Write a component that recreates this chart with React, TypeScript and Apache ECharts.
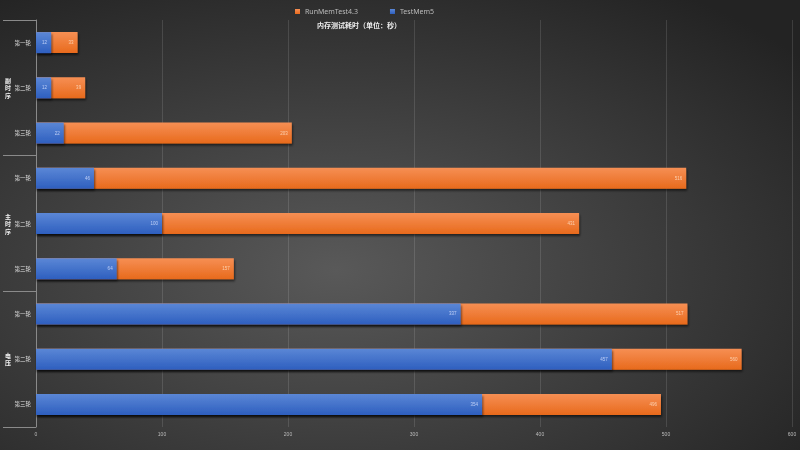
import React, { useEffect, useRef } from "react";
import * as echarts from "echarts";

const groups = ["副时序", "主时序", "电压"];
const rounds = ["第一轮", "第二轮", "第三轮"];
const categories = groups.flatMap((g) => rounds.map((r) => g + "|" + r));
const testMem5 = [12, 12, 22, 46, 100, 64, 337, 457, 354];
const runMemTest = [33, 39, 203, 516, 431, 157, 517, 560, 496];
const xTicks = [0, 100, 200, 300, 400, 500, 600];

const orangeGrad = new echarts.graphic.LinearGradient(0, 0, 0, 1, [
  { offset: 0, color: "#f68f54" },
  { offset: 1, color: "#e86a1c" },
]);
const blueGrad = new echarts.graphic.LinearGradient(0, 0, 0, 1, [
  { offset: 0, color: "#5b87d6" },
  { offset: 1, color: "#2e5fbf" },
]);

export default function App() {
  const ref = useRef<HTMLDivElement>(null);
  useEffect(() => {
    if (!ref.current) return;
    const chart = echarts.init(ref.current, undefined, { renderer: "svg" });
    chart.setOption({
      animation: false,
      backgroundColor: {
        type: "radial",
        x: 0.42,
        y: 0.6,
        r: 0.75,
        colorStops: [
          { offset: 0, color: "#595959" },
          { offset: 1, color: "#232323" },
        ],
      },
      title: {
        text: "内存测试耗时（单位：秒）",
        left: 312,
        top: 16,
        textStyle: { color: "#f0f0f0", fontSize: 7, fontWeight: "bold", fontFamily: "Noto Sans CJK SC" },
      },
      legend: {
        left: 290,
        top: 3,
        itemWidth: 5,
        itemHeight: 5,
        itemGap: 32,
        icon: "rect",
        textStyle: { color: "#bbbbbb", fontSize: 7, fontFamily: "Noto Sans" },
        data: ["RunMemTest4.3", "TestMem5"],
      },
      grid: { left: 36, right: 8, top: 20, bottom: 23, containLabel: false },
      xAxis: {
        type: "value",
        min: 0,
        max: 600,
        interval: 100,
        axisLine: { show: false },
        axisTick: { show: false },
        splitLine: { lineStyle: { color: "rgba(255,255,255,0.12)", width: 1 } },
        axisLabel: {
          color: "#bbbbbb",
          fontSize: 5,
          margin: 4,
          formatter: (v: number) => (xTicks.includes(v) ? String(v) : ""),
        },
      },
      yAxis: [
        {
          type: "category",
          inverse: true,
          position: "left",
          data: categories,
          axisLine: { show: true, lineStyle: { color: "#8a8a8a", width: 1 } },
          axisTick: { show: false },
          axisLabel: {
            color: "#e0e0e0",
            fontSize: 5.5,
            margin: 5,
            fontFamily: "Noto Sans CJK SC",
            formatter: (v: string) => v.split("|")[1],
          },
        },
        {
          type: "category",
          inverse: true,
          position: "left",
          offset: 0,
          data: groups,
          axisLine: { show: false },
          axisTick: { show: true, length: 33, lineStyle: { color: "#8a8a8a", width: 1 } },
          axisLabel: {
            color: "#f0f0f0",
            fontSize: 6,
            fontWeight: "bold",
            align: "center",
            margin: 28,
            lineHeight: 7.5,
            fontFamily: "Noto Sans CJK SC",
            formatter: (v: string) => v.split("").join("\n"),
          },
        },
      ],
      series: [
        {
          name: "RunMemTest4.3",
          type: "bar",
          yAxisIndex: 0,
          data: runMemTest,
          barWidth: 21,
          barGap: "-100%",
          itemStyle: {
            color: orangeGrad,
            shadowColor: "rgba(0,0,0,0.55)",
            shadowBlur: 2,
            shadowOffsetY: 2,
            shadowOffsetX: 1,
          },
          label: {
            show: true,
            position: "insideRight",
            color: "rgba(255,225,200,0.8)",
            fontSize: 4.5,
            distance: 4,
          },
        },
        {
          name: "TestMem5",
          type: "bar",
          yAxisIndex: 0,
          data: testMem5,
          barWidth: 21,
          barGap: "-100%",
          itemStyle: {
            color: blueGrad,
            shadowColor: "rgba(0,0,0,0.55)",
            shadowBlur: 2,
            shadowOffsetY: 2,
            shadowOffsetX: 1,
          },
          label: {
            show: true,
            position: "insideRight",
            color: "rgba(215,225,255,0.8)",
            fontSize: 4.5,
            distance: 4,
          },
        },
      ],
      color: ["#ee7a30", "#3f6fcc"],
    });
    return () => chart.dispose();
  }, []);
  return (
    <div
      ref={ref}
      style={{ position: "fixed", left: 0, top: 0, width: 800, height: 450 }}
    />
  );
}
